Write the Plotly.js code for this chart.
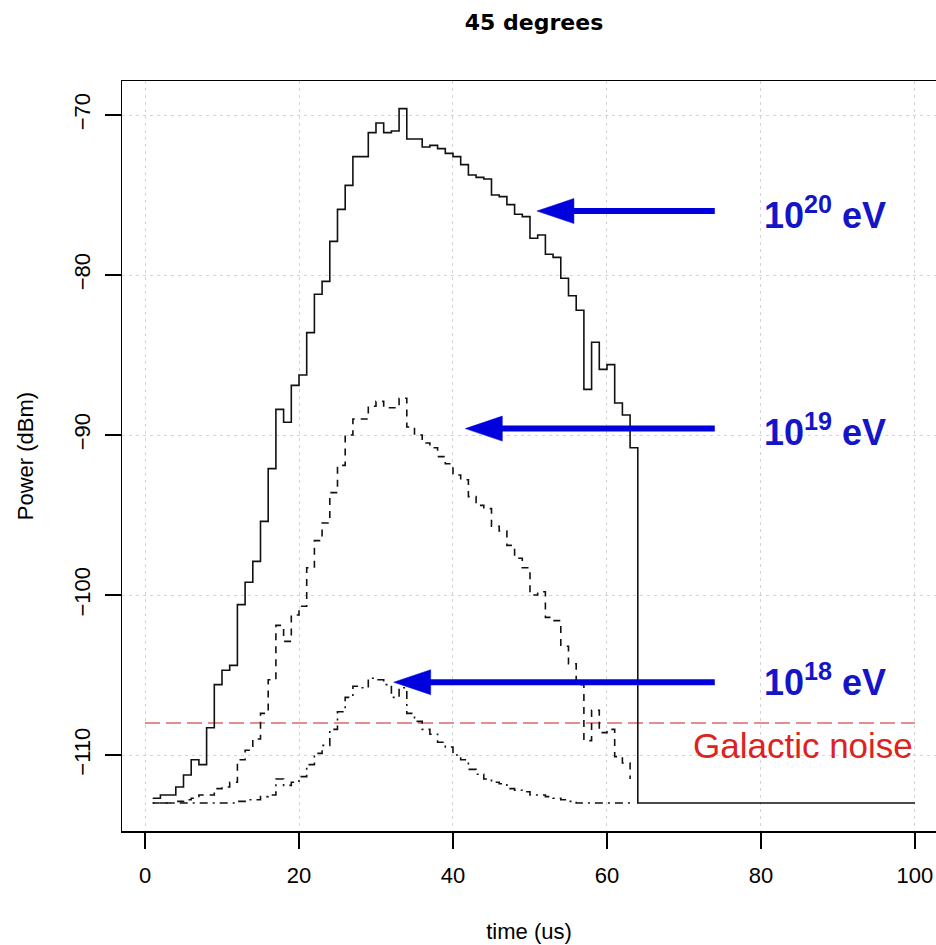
<!DOCTYPE html>
<html>
<head>
<meta charset="utf-8">
<script src="https://cdn.plot.ly/plotly-3.0.1.min.js"></script>
<style>
  html, body { margin: 0; padding: 0; background: #ffffff; overflow: hidden; }
  #chart { width: 936px; height: 945px; }
</style>
</head>
<body>
<div id="chart"></div>
<script>
// ---- data ----
const timeUs = [1,2,3,4,5,6,7,8,9,10,11,12,13,14,15,16,17,18,19,20,
  21,22,23,24,25,26,27,28,29,30,31,32,33,34,35,36,37,38,39,40,
  41,42,43,44,45,46,47,48,49,50,51,52,53,54,55,56,57,58,59,60,
  61,62,63,64,65,66,67,68,69,70,71,72,73,74,75,76,77,78,79,80,
  81,82,83,84,85,86,87,88,89,90,91,92,93,94,95,96,97,98,99,100];

// 10^20 eV (solid)
const power1e20 = [-112.7,-112.5,-112.5,-112.0,-111.25,-110.3,-110.6,-108.3,-105.6,-104.7,
  -104.4,-100.6,-99.2,-97.9,-95.4,-92.1,-88.4,-89.2,-86.9,-86.25,
  -83.6,-81.2,-80.4,-77.9,-75.9,-74.4,-72.6,-72.6,-71.1,-70.5,
  -71.1,-71.0,-69.6,-71.5,-71.5,-72.0,-71.9,-72.1,-72.4,-72.6,
  -73.1,-73.75,-73.9,-74.0,-75.0,-75.1,-75.6,-76.2,-76.35,-77.7,
  -77.5,-78.7,-78.9,-80.2,-81.3,-82.2,-87.15,-84.2,-85.9,-85.6,
  -88.0,-88.75,-90.8,-113,-113,-113,-113,-113,-113,-113,
  -113,-113,-113,-113,-113,-113,-113,-113,-113,-113,
  -113,-113,-113,-113,-113,-113,-113,-113,-113,-113,
  -113,-113,-113,-113,-113,-113,-113,-113,-113,-113];

// 10^19 eV (dashed), times 1..63
const power1e19 = [-113.0,-113.0,-113.0,-112.9,-112.8,-112.7,-112.5,-112.5,-112.1,-112.0,
  -111.7,-110.3,-109.7,-109.0,-107.4,-105.3,-101.9,-102.9,-101.25,-100.7,
  -98.3,-96.6,-95.5,-93.6,-91.9,-90.0,-89.0,-89.0,-88.2,-87.9,
  -88.3,-88.3,-87.7,-89.5,-90.0,-90.5,-90.8,-91.35,-91.8,-92.5,
  -92.8,-93.85,-94.4,-94.6,-95.7,-96.0,-96.9,-97.7,-98.3,-100.0,
  -99.8,-101.4,-101.6,-103.2,-104.3,-105.6,-109.1,-107.2,-108.6,-108.4,
  -110.1,-110.5,-111.5];

// 10^18 eV (dot-dash), times 1..63
const power1e18 = [-113.0,-113.0,-113.0,-113.0,-113.0,-113.0,-113.0,-113.0,-113.0,-113.0,
  -113.0,-112.9,-112.8,-112.8,-112.6,-112.5,-111.5,-111.9,-111.7,-111.35,
  -110.6,-109.9,-109.4,-108.4,-107.3,-106.4,-105.7,-105.8,-105.2,-105.3,
  -105.6,-106.4,-105.8,-107.4,-107.9,-108.4,-108.7,-109.2,-109.5,-110.0,
  -110.3,-110.9,-111.2,-111.5,-111.7,-111.8,-112.1,-112.2,-112.3,-112.5,
  -112.5,-112.6,-112.7,-112.8,-112.9,-113.0,-113.0,-113.0,-113.0,-113.0,
  -113.0,-113.0,-113.0];

const noiseLevel = -108;
const noiseSpan = [0, 100];

const xTickVals = [0, 20, 40, 60, 80, 100];
const yTickVals = [-110, -100, -90, -80, -70];

// energy labels and arrows
const energyLabels = ['10<sup>20</sup> eV', '10<sup>19</sup> eV', '10<sup>18</sup> eV'];
const arrowY = [-76.0, -89.6, -105.45];
const arrowTipX = [50.9, 41.6, 32.3];
const arrowTailX = [74.0, 74.0, 74.0];
const labelX = [88.3, 88.3, 88.3];
const labelY = [-76.1, -89.7, -105.3];
const noiseLabel = 'Galactic noise';
const noiseLabelPos = [85.45, -109.4];

// ---- layout geometry ----
const W = 936, H = 945;
const M = { l: 122, r: 0, t: 81, b: 114 };
const xRange = [-2.987, 102.73];
const yRange = [-114.75, -67.875];
const pxPerX = (W - M.l - M.r) / (xRange[1] - xRange[0]);
const pxPerY = (H - M.t - M.b) / (yRange[1] - yRange[0]);

const blue = '#0000dd';
const headLen = 37 / pxPerX;
const headHalf = 12.5 / pxPerY;

const shapes = [];
arrowY.forEach((y, i) => {
  const tip = arrowTipX[i];
  const base = tip + headLen;
  shapes.push({
    type: 'line', xref: 'x', yref: 'y',
    x0: base - 0.5, x1: arrowTailX[i], y0: y, y1: y,
    line: { color: blue, width: 6 }
  });
  shapes.push({
    type: 'path', xref: 'x', yref: 'y',
    path: `M ${tip},${y} L ${base},${y + headHalf} L ${base},${y - headHalf} Z`,
    fillcolor: blue, line: { color: blue, width: 0.5 }
  });
});

const annotations = energyLabels.map((t, i) => ({
  x: labelX[i], y: labelY[i], xref: 'x', yref: 'y',
  text: '<b>' + t + '</b>', showarrow: false,
  xanchor: 'center', yanchor: 'middle',
  font: { family: 'Liberation Sans, Arial, sans-serif', size: 36, color: '#1414c8' }
}));
annotations.push({
  x: noiseLabelPos[0], y: noiseLabelPos[1], xref: 'x', yref: 'y',
  text: noiseLabel, showarrow: false, xanchor: 'center', yanchor: 'middle',
  font: { family: 'Liberation Sans, Arial, sans-serif', size: 35, color: '#dd2222' }
});

const lineBase = { type: 'scatter', mode: 'lines', hoverinfo: 'skip', showlegend: false };
const traces = [
  Object.assign({}, lineBase, {
    x: noiseSpan, y: noiseSpan.map(() => noiseLevel),
    line: { color: '#dc6a6a', width: 1.5, dash: '15px,6px' }
  }),
  Object.assign({}, lineBase, {
    x: timeUs, y: power1e20,
    line: { color: '#111111', width: 1.6, shape: 'hv' }
  }),
  Object.assign({}, lineBase, {
    x: timeUs.slice(0, power1e19.length), y: power1e19,
    line: { color: '#111111', width: 1.6, shape: 'hv', dash: '7px,6px' }
  }),
  Object.assign({}, lineBase, {
    x: timeUs.slice(0, power1e18.length), y: power1e18,
    line: { color: '#111111', width: 1.6, shape: 'hv', dash: '2px,5px,8px,5px' }
  })
];

const tickFont = { family: 'Liberation Sans, Arial, sans-serif', size: 22, color: '#000000' };
const axisCommon = {
  ticks: 'outside', ticklen: 16, tickwidth: 1.5, tickcolor: '#000000',
  showline: true, linecolor: '#000000', linewidth: 1.5,
  showgrid: true, gridcolor: '#d3d3d3', gridwidth: 1, griddash: '3px,4px',
  zeroline: false, tickfont: tickFont, fixedrange: true
};

const layout = {
  width: W, height: H, margin: M,
  paper_bgcolor: '#ffffff', plot_bgcolor: '#ffffff',
  title: {
    text: '<b>45 degrees</b>',
    font: { family: 'DejaVu Sans, sans-serif', size: 22, color: '#000000' },
    x: 534 / W, xanchor: 'center', xref: 'container',
    y: 1 - 22 / H, yanchor: 'middle', yref: 'container'
  },
  xaxis: Object.assign({}, axisCommon, {
    range: xRange, tickmode: 'array', tickvals: xTickVals,
    mirror: true, ticklabelstandoff: 8,
    title: { text: 'time (us)', font: { family: 'Liberation Sans, Arial, sans-serif', size: 22, color: '#000000' }, standoff: 36 }
  }),
  yaxis: Object.assign({}, axisCommon, {
    range: yRange, tickmode: 'array', tickvals: yTickVals,
    tickangle: -90, ticklabelstandoff: 6,
    title: { text: 'Power (dBm)', font: { family: 'Liberation Sans, Arial, sans-serif', size: 22, color: '#000000' }, standoff: 30 }
  }),
  shapes: shapes,
  annotations: annotations
};

Plotly.newPlot('chart', traces, layout, { displayModeBar: false, staticPlot: true });
</script>
</body>
</html>
